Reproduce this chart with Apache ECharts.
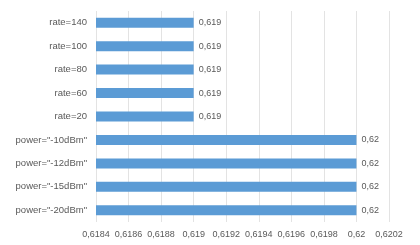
<!DOCTYPE html>
<html>
<head>
<meta charset="utf-8">
<script src="https://cdn.jsdelivr.net/npm/echarts@6/dist/echarts.min.js"></script>
<style>
  html, body { margin: 0; padding: 0; background: #fff; }
  #chart { width: 420px; height: 245px; }
</style>
</head>
<body>
<div id="chart"></div>
<script>
// bottom to top, as the category axis draws them
const categories = [
  'power="-20dBm"',
  'power="-15dBm"',
  'power="-12dBm"',
  'power="-10dBm"',
  'rate=20',
  'rate=60',
  'rate=80',
  'rate=100',
  'rate=140'
]
const values = [0.62, 0.62, 0.62, 0.62, 0.619, 0.619, 0.619, 0.619, 0.619]

const xMin = 0.6184
const xMax = 0.6202
const xStep = 0.0002

function fmt(v) {
  return String(parseFloat(Number(v).toFixed(4))).replace('.', ',')
}

const chart = echarts.init(document.getElementById('chart'))
chart.setOption({
  animation: false,
  textStyle: { fontFamily: 'Liberation Sans' },
  grid: { left: 96, right: 31, top: 11, bottom: 23, containLabel: false },
  xAxis: {
    type: 'value',
    min: xMin,
    max: xMax,
    interval: xStep,
    axisLine: { show: false },
    axisTick: { show: false },
    splitLine: { lineStyle: { color: '#e3e3e3' } },
    axisLabel: { color: '#595959', fontSize: 9, margin: 8, formatter: fmt }
  },
  yAxis: {
    type: 'category',
    data: categories,
    axisLine: { show: false },
    axisTick: { show: false },
    axisLabel: { color: '#595959', fontSize: 9.5, margin: 9 }
  },
  series: [
    {
      type: 'bar',
      data: values,
      barWidth: 10,
      itemStyle: { color: '#5b9bd5' },
      label: {
        show: true,
        position: 'right',
        distance: 5,
        color: '#595959',
        fontSize: 9,
        formatter: (p) => fmt(p.value)
      }
    }
  ]
})
</script>
</body>
</html>
